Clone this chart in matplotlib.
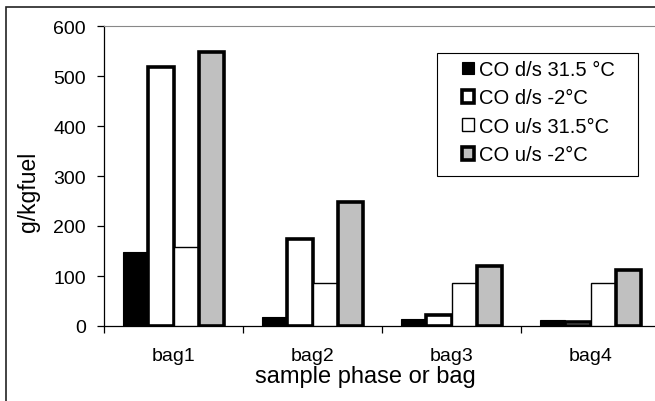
from matplotlib import pyplot as plt
from matplotlib.patches import Rectangle
import numpy as np

plt.rcParams['font.family'] = ['Liberation Sans', 'DejaVu Sans']

bags = ['bag1', 'bag2', 'bag3', 'bag4']
series_names = ['CO d/s 31.5 °C', 'CO d/s -2°C', 'CO u/s 31.5°C', 'CO u/s -2°C']
co_ds_hot = [148, 19, 14, 13]
co_ds_cold = [519, 174, 22, 9]
co_us_hot = [159, 86, 86, 86]
co_us_cold = [549, 249, 121, 113]
y_ticks = [0, 100, 200, 300, 400, 500, 600]

W, H = 655, 402
fig = plt.figure(figsize=(W / 100, H / 100), dpi=100)
ax = fig.add_axes([104 / W, 1 - 327 / H, 556 / W, 300 / H])

# outer chart frame (right/bottom edges fall outside the image)
fig.add_artist(Rectangle((6 / W, -0.1), 1.2, 1 - 8 / H + 0.1,
                         transform=fig.transFigure, fill=False,
                         edgecolor='#222222', linewidth=1.2))

x = np.arange(len(bags))
w = 0.182
styles = [
    dict(color='black', edgecolor='black', linewidth=0.8),
    dict(color='white', edgecolor='black', linewidth=2.6),
    dict(color='white', edgecolor='black', linewidth=1.0),
    dict(color='#c0c0c0', edgecolor='black', linewidth=2.6),
]
all_vals = [co_ds_hot, co_ds_cold, co_us_hot, co_us_cold]
for k, (vals, st) in enumerate(zip(all_vals, styles)):
    ax.bar(x + (k - 1.5) * w, vals, w, label=series_names[k], zorder=3, **st)

ax.set_xlim(-0.5, 3.5)
ax.set_ylim(0, 600)
ax.set_yticks(y_ticks)
ax.set_xticks(x)
ax.set_xticklabels(bags)
ax.set_xticks(np.arange(-0.5, 4.0, 1.0), minor=True)
ax.tick_params(axis='x', which='major', length=0, pad=15, labelsize=14)
ax.tick_params(axis='x', which='minor', length=5, width=0.9, direction='out')
ax.tick_params(axis='y', length=5, width=0.9, direction='out', pad=8, labelsize=14)

ax.spines['top'].set_color('#888888')
ax.spines['right'].set_visible(False)
ax.spines['left'].set_linewidth(0.9)
ax.spines['bottom'].set_linewidth(0.9)

ax.set_ylabel('g/kgfuel', fontsize=16.5)
ax.yaxis.set_label_coords(-0.116, 0.45)
ax.set_xlabel('sample phase or bag', fontsize=17)
ax.xaxis.set_label_coords(0.47, -0.13)

# legend box drawn separately to get the wide left padding
ax.add_patch(Rectangle((437 / W, 1 - 177 / H), 201 / W, 123 / H,
                       transform=fig.transFigure, facecolor='white',
                       edgecolor='black', linewidth=0.8, zorder=4,
                       clip_on=False))
leg = ax.legend(loc='upper left', bbox_to_anchor=(462 / W, 1 - 61 / H),
                bbox_transform=fig.transFigure, frameon=False,
                fontsize=14.5, handlelength=0.6, handleheight=0.6,
                handletextpad=0.25, labelspacing=0.47, borderpad=0,
                borderaxespad=0)
leg.set_zorder(5)

fig.savefig('out.png', dpi=100)
